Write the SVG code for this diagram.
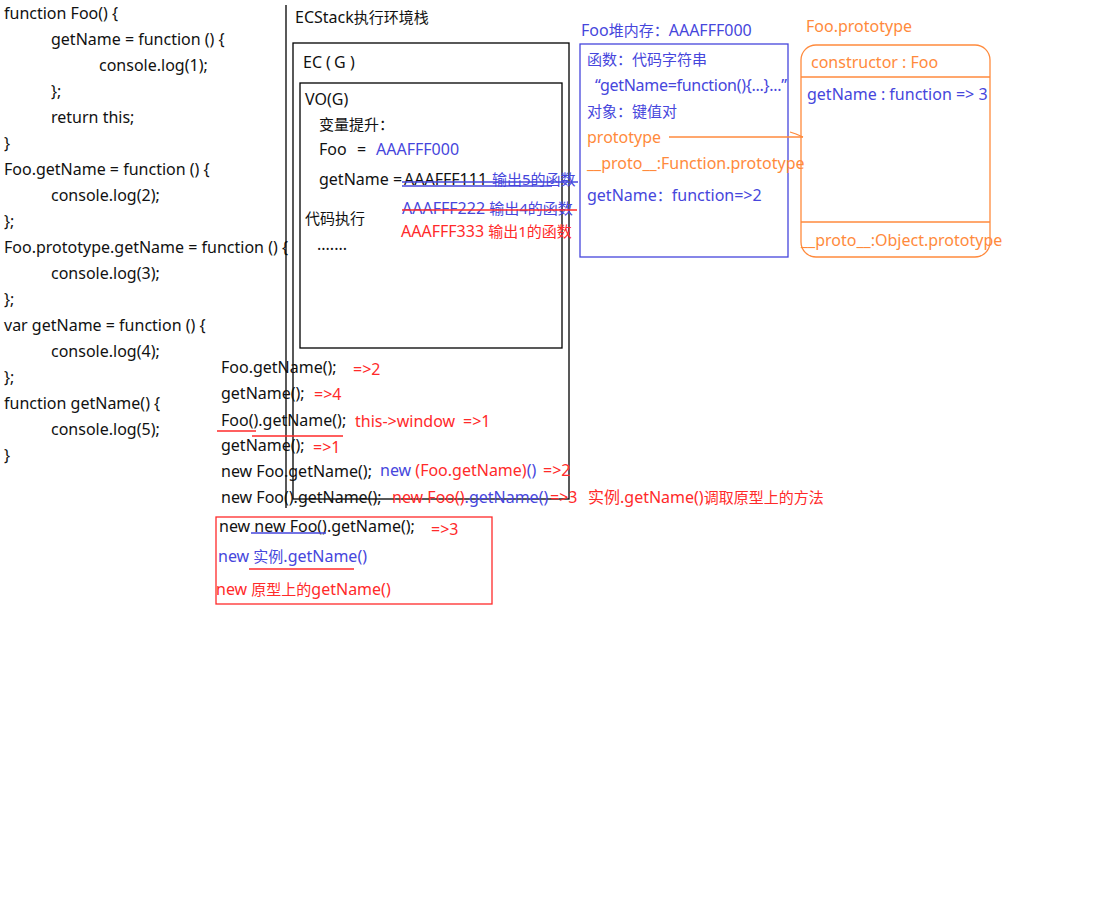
<svg xmlns="http://www.w3.org/2000/svg" width="1096" height="912" viewBox="0 0 1096 912">
<style>
text{font-family:"Noto Sans","Noto Sans CJK SC",sans-serif;font-size:16px;fill:#111}
.c{font-size:15px}
.b{fill:#4646DC}.r{fill:#FF2A2A}.o{fill:#FF8A3C}.k{fill:#111}
.lk{stroke:#000;stroke-width:1.3;fill:none}
.lb{stroke:#4646DC;stroke-width:1.3;fill:none}
.lr{stroke:#FF2A2A;stroke-width:1.3;fill:none}
.lo{stroke:#FF8A3C;stroke-width:1.3;fill:none}
</style>
<rect width="1096" height="912" fill="#fff"/>
<g id="code">
<text x="4" y="19">function Foo() {</text>
<text x="51" y="45">getName = function () {</text>
<text x="99" y="71">console.log(1);</text>
<text x="51" y="97">};</text>
<text x="51" y="123">return this;</text>
<text x="4" y="149">}</text>
<text x="4" y="175">Foo.getName = function () {</text>
<text x="51" y="201">console.log(2);</text>
<text x="4" y="227">};</text>
<text x="4" y="253">Foo.prototype.getName = function () {</text>
<text x="51" y="279">console.log(3);</text>
<text x="4" y="305">};</text>
<text x="4" y="331">var getName = function () {</text>
<text x="51" y="357">console.log(4);</text>
<text x="4" y="383">};</text>
<text x="4" y="409">function getName() {</text>
<text x="51" y="435">console.log(5);</text>
<text x="4" y="461">}</text>
</g>
<g id="ecstack">
<line class="lk" x1="286" y1="5" x2="286" y2="508"/>
<text x="295" y="23">ECStack<tspan class="c">执行环境栈</tspan></text>
</g>
<g id="ec-g">
<rect class="lk" x="293" y="43" width="276" height="456"/>
<text x="303" y="68">EC<tspan x="326">(</tspan><tspan x="334">G</tspan><tspan x="350">)</tspan></text>
</g>
<g id="vo-g">
<rect class="lk" x="300" y="83" width="262" height="265"/>
<text x="305" y="105">VO(G)</text>
<text class="c" x="319" y="130">变量提升：</text>
<text x="319" y="155">Foo<tspan x="357">=</tspan></text>
<text class="b" x="376" y="155">AAAFFF000</text>
<text x="319" y="185">getName = </text>
<text x="404" y="185">AAAFFF111 <tspan class="b c" x="492">输出5的函数</tspan></text>
<line class="lb" x1="402" y1="182" x2="578" y2="182"/>
<line class="lb" x1="402" y1="186" x2="552" y2="186"/>
<text class="b" x="402" y="214">AAAFFF222 <tspan class="c">输出4的函数</tspan></text>
<line class="lr" x1="402" y1="210" x2="577" y2="210"/>
<text class="r" x="401" y="237">AAAFFF333 <tspan class="c">输出1的函数</tspan></text>
<text class="c" x="305" y="224">代码执行</text>
<text x="317" y="250">.......</text>
</g>
<g id="heap-foo">
<text class="b" x="581" y="36">Foo<tspan class="c">堆内存：</tspan>AAAFFF000</text>
<rect class="lb" x="580" y="44" width="208" height="213"/>
<text class="b c" x="587" y="65">函数：代码字符串</text>
<text class="b" x="595" y="91" textLength="192">“getName=function(){...}...”</text>
<text class="b c" x="587" y="117">对象：键值对</text>
<text class="o" x="587" y="143">prototype</text>
<text class="o" x="587" y="169">__proto__:Function.prototype</text>
<text class="b" x="587" y="201">getName<tspan class="c">：</tspan>function=&gt;2</text>
</g>
<g id="foo-prototype">
<text class="o" x="806" y="32">Foo.prototype</text>
<rect class="lo" x="801" y="45" width="189" height="212" rx="15" ry="15"/>
<text class="o" x="811" y="68">constructor : Foo</text>
<line class="lo" x1="801" y1="77" x2="990" y2="77"/>
<text class="b" x="807" y="100">getName : function =&gt; 3</text>
<line class="lo" x1="801" y1="222" x2="990" y2="222"/>
<text class="o" x="801" y="246">__proto__:Object.prototype</text>
</g>
<g id="connectors">
<line class="lo" x1="669" y1="137" x2="803" y2="137"/>
<polyline class="lo" points="790,132 796,134 803,137"/>
</g>
<g id="calls">
<text x="221" y="373">Foo.getName();</text>
<text class="r" x="353" y="375">=&gt;2</text>
<text x="221" y="399">getName();</text>
<text class="r" x="314" y="400">=&gt;4</text>
<text x="221" y="426">Foo().getName();</text>
<text class="r" x="355" y="427">this-&gt;window<tspan x="463">=&gt;1</tspan></text>
<line class="lr" x1="217" y1="431" x2="256" y2="431"/>
<line class="lr" x1="252" y1="436" x2="343" y2="436"/>
<text x="221" y="451">getName();</text>
<text class="r" x="313" y="453">=&gt;1</text>
<text x="221" y="477">new Foo.getName();</text>
<text x="380" y="476"><tspan class="b">new </tspan><tspan class="r">(Foo.getName)</tspan><tspan class="b">()</tspan><tspan class="r" x="543">=&gt;2</tspan></text>
<text x="221" y="503">new Foo().getName();</text>
<text x="392" y="503"><tspan class="r">new Foo()</tspan><tspan class="b">.getName()</tspan><tspan class="r" x="550">=&gt;3</tspan><tspan class="r" x="588">实例.getName()<tspan class="c">调取原型上的方法</tspan></tspan></text>
</g>
<g id="new-new">
<rect class="lr" x="216" y="517" width="276" height="87"/>
<text x="219" y="532">new new Foo().getName();</text>
<line class="lb" x1="251" y1="533" x2="326" y2="533"/>
<text class="r" x="431" y="535">=&gt;3</text>
<text class="b" x="218" y="562">new <tspan class="c">实例</tspan>.getName()</text>
<line class="lr" x1="249" y1="569" x2="354" y2="569"/>
<text class="r" x="216" y="595">new <tspan class="c">原型上的</tspan>getName()</text>
</g>
</svg>
